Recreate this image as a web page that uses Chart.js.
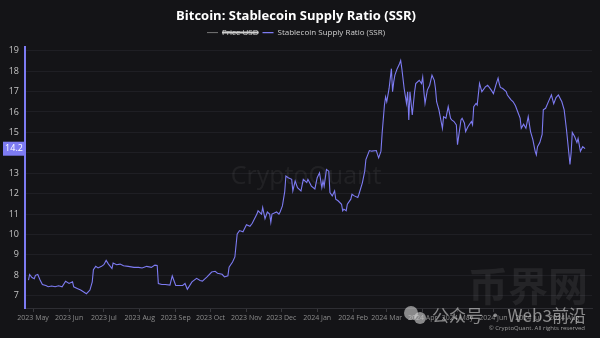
<!DOCTYPE html>
<html><head><meta charset="utf-8">
<script src="https://cdn.jsdelivr.net/npm/chart.js@4"></script>
<style>html,body{margin:0;padding:0;background:#141417;}canvas{display:block;}</style>
</head><body>
<canvas id="c" width="600" height="338"></canvas>
<script>
// Days since 2023-05-01
const days = [-4,-3,-1,1,2,4,6,8,11,13,16,19,22,25,28,31,34,35,38,41,44,46,49,51,52,54,56,59,61,63,65,68,69,72,75,78,82,87,91,94,98,102,105,107,108,111,114,118,120,123,126,129,131,133,137,141,144,146,150,154,157,159,163,165,168,169,172,174,176,178,181,184,187,189,193,194,197,198,200,202,204,205,206,210,212,213,215,217,218,220,223,224,226,228,231,233,236,237,240,243,245,247,249,250,251,253,255,256,258,260,261,263,266,267,268,270,271,274,275,277,280,281,284,286,287,290,292,296,297,298,300,301,303,304,305,307,309,310,311,312,314,316,317,318,320,322,323,324,325,327,329,330,333,335,336,337,338,340,342,344,346,347,348,350,353,354,356,358,360,361,363,365,366,369,370,372,373,375,378,379,380,382,383,385,387,390,392,395,397,399,401,402,403,405,408,409,412,414,416,418,420,421,423,425,427,429,431,433,434,435,437,439,440,442,445,447,449,451,453,456,458,460,462,463,464,465,467,469,470,472,474,476];
const ssr = [7.77,8.04,7.89,7.83,8.0,8.04,7.77,7.55,7.5,7.44,7.48,7.44,7.49,7.44,7.71,7.6,7.68,7.44,7.36,7.28,7.17,7.1,7.28,7.68,8.28,8.44,8.36,8.44,8.52,8.73,8.55,8.33,8.6,8.52,8.55,8.47,8.44,8.39,8.39,8.36,8.44,8.39,8.5,8.48,7.6,7.55,7.55,7.52,7.97,7.5,7.5,7.5,7.6,7.32,7.68,7.85,7.75,7.72,7.92,8.16,8.2,8.1,8.05,7.92,7.98,8.4,8.65,8.9,10.03,10.19,10.13,10.48,10.4,10.55,11.0,11.16,11.0,11.32,10.77,11.1,11.0,10.6,11.0,11.1,11.0,11.1,11.4,12.1,12.86,12.78,12.7,12.13,12.62,12.29,12.13,12.7,12.54,12.7,12.37,12.23,12.78,13.02,12.29,12.62,12.37,13.18,13.1,12.05,11.89,12.13,11.73,11.65,11.48,11.16,11.24,11.16,11.48,11.73,11.97,11.89,11.81,11.97,12.54,13.1,13.67,14.11,14.08,14.11,13.92,13.75,14.08,14.95,16.34,16.74,16.5,17.15,18.12,16.99,17.47,17.8,18.12,18.36,18.52,18.12,17.15,16.42,16.99,15.61,16.99,15.85,16.99,17.39,17.55,17.39,17.71,16.99,16.42,17.07,17.31,17.8,17.55,17.15,16.5,16.1,15.2,15.77,15.69,16.26,15.69,15.61,15.53,15.37,14.4,15.61,15.69,15.45,15.04,15.28,15.53,15.37,16.26,16.42,16.34,17.4,16.99,17.23,17.31,17.08,16.9,17.3,17.66,17.39,17.2,17.15,17.0,16.83,16.6,16.5,16.3,16.0,15.7,15.2,15.4,15.2,15.77,15.04,14.64,14.07,13.9,14.3,14.5,14.9,16.1,16.18,16.58,16.83,16.4,16.7,16.83,16.5,16.1,15.13,14.0,13.43,14.0,15.0,14.8,14.5,14.7,14.07,14.3,14.2];
// Month tick positions (days since 2023-05-01) and labels
const monthDays = [0,31,61,92,123,153,184,214,245,276,305,336,366,397,427,458];
const monthLabels = ['2023 May','2023 Jun','2023 Jul','2023 Aug','2023 Sep','2023 Oct','2023 Nov','2023 Dec','2024 Jan','2024 Feb','2024 Mar','2024 Apr','2024 May','2024 Jun','2024 Jul','2024 Aug'];
const yTicks = [7,8,9,10,11,12,13,14,15,16,17,18,19];

const LINE = '#7d7bf2';
const FONT = "'Open Sans', 'Noto Sans', sans-serif";

const overlay = {
  id: 'overlay',
  beforeDatasetsDraw(chart) {
    const ctx = chart.ctx;
    ctx.save();
    ctx.font = "400 25px " + FONT;
    ctx.fillStyle = 'rgba(255,255,255,0.06)';
    ctx.textAlign = 'center';
    ctx.textBaseline = 'middle';
    ctx.fillText('CryptoQuant', 306, 177);
    ctx.font = "700 40px 'Noto Sans CJK SC'";
    ctx.fillStyle = 'rgba(255,255,255,0.07)';
    ctx.fillText('币界网', 528, 286);
    ctx.restore();
  },
  afterDraw(chart) {
    const ctx = chart.ctx;
    const y = chart.scales.y;
    const last = ssr[ssr.length - 1];
    const py = y.getPixelForValue(last);
    ctx.save();
    ctx.fillStyle = LINE;
    ctx.fillRect(3, py - 7, 22, 14);
    ctx.fillStyle = '#ffffff';
    ctx.font = "9px " + FONT;
    ctx.textAlign = 'center';
    ctx.textBaseline = 'middle';
    ctx.fillText(last.toFixed(1), 14, py);
    // copyright
    ctx.font = "6px " + FONT;
    ctx.fillStyle = '#9a9a9a';
    ctx.textAlign = 'right';
    ctx.fillText('© CryptoQuant. All rights reserved', 585, 328);
    // repost watermark
    ctx.fillStyle = 'rgba(215,215,215,0.6)';
    ctx.beginPath(); ctx.arc(411, 313, 7, 0, Math.PI * 2); ctx.fill();
    ctx.beginPath(); ctx.arc(420, 318, 6, 0, Math.PI * 2); ctx.fill();
    ctx.font = "17px 'Noto Sans CJK SC'";
    ctx.textAlign = 'left';
    ctx.fillText('公众号 · Web3前沿', 432, 316);
    ctx.restore();
  }
};

new Chart(document.getElementById('c'), {
  type: 'line',
  data: {
    datasets: [
      { label: 'Price USD', data: [], borderColor: '#777', backgroundColor: '#777', borderWidth: 1, hidden: true },
      { label: 'Stablecoin Supply Ratio (SSR)',
        data: days.map((d, i) => ({ x: d, y: ssr[i] })),
        borderColor: LINE, backgroundColor: LINE, borderWidth: 1.1, pointRadius: 0, tension: 0 }
    ]
  },
  options: {
    responsive: false,
    animation: false,
    devicePixelRatio: 1,
    layout: { padding: { left: 0, right: 8, top: 0, bottom: 0 } },
    plugins: {
      title: { display: true, text: 'Bitcoin: Stablecoin Supply Ratio (SSR)', color: '#ffffff',
        font: { family: FONT, size: 13, weight: '700' }, padding: { top: 8, bottom: 1 } },
      legend: { display: true, labels: { color: '#cfcfcf', font: { family: FONT, size: 8 },
        usePointStyle: true, pointStyle: 'line', pointStyleWidth: 11, padding: 4 } },
      tooltip: { enabled: false }
    },
    scales: {
      x: { type: 'linear', min: -7, max: 482,
        afterBuildTicks(s) { s.ticks = monthDays.map(v => ({ value: v })); },
        afterFit(s) { s.height = 30; },
        ticks: { autoSkip: false, maxRotation: 0, color: '#8c8c8c', font: { family: FONT, size: 7 }, padding: 2,
          callback(v) { const i = monthDays.indexOf(v); return i >= 0 ? monthLabels[i] : ''; } },
        grid: { drawOnChartArea: false, drawTicks: true, tickLength: 4, color: '#3a3a3e' },
        border: { display: true, color: '#2e2e33' } },
      y: { type: 'linear', min: 6.4, max: 19.2,
        afterBuildTicks(s) { s.ticks = yTicks.map(v => ({ value: v })); },
        afterFit(s) { s.width = 25; },
        ticks: { color: '#c4c4c4', font: { family: FONT, size: 9 }, padding: 6 },
        grid: { color: '#1f1f24', drawTicks: false },
        border: { display: true, color: LINE, width: 2 } }
    }
  },
  plugins: [overlay]
});
</script>
</body></html>
